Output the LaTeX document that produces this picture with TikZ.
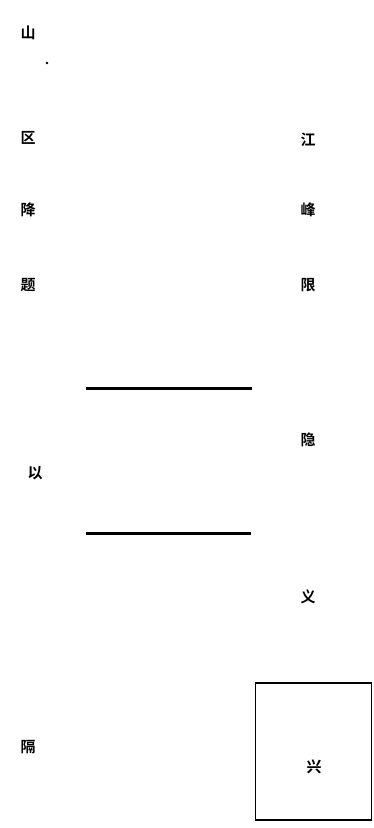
\documentclass[tikz,border=0pt]{standalone}
\usepackage{fontspec}
\newfontfamily\cjk[BoldFont={Noto Sans CJK SC Bold}]{Noto Sans CJK SC}
\tikzset{
  glyph/.style={font=\cjk\bfseries\fontsize{15pt}{15pt}\selectfont, inner sep=0pt, text=black},
  rule/.style={line width=3pt, black},
  frame/.style={draw=black, line width=1.8pt, minimum width=116pt, minimum height=137pt, inner sep=0pt}
}
\begin{document}
\begin{tikzpicture}[x=1pt,y=1pt]
\useasboundingbox (0,0) rectangle (374,-828);
\node[glyph] (t1) at (28,-33) {山};
\fill (47,-63) circle (1.4) coordinate (dot);
\node[glyph] (l1) at (28,-138) {区};
\node[glyph] (l2) at (28,-210) {降};
\node[glyph] (l3) at (28,-285) {题};
\node[glyph] (r1) at (308,-140) {江};
\node[glyph] (r2) at (308,-210) {峰};
\node[glyph] (r3) at (308,-285) {限};
\coordinate (a1) at (86,-388);
\coordinate (a2) at (252,-388);
\draw[rule] (a1) -- (a2);
\coordinate (b1) at (86,-533);
\coordinate (b2) at (251,-533);
\draw[rule] (b1) -- (b2);
\node[glyph] (l4) at (35,-473) {以};
\node[glyph] (r4) at (308,-440) {隐};
\node[glyph] (r5) at (308,-597) {义};
\node[glyph] (l5) at (28,-747) {隔};
\node[frame] (box) at (313.5,-751.5) {};
\node[glyph] (bx) at (314,-767) {兴};
\end{tikzpicture}
\end{document}
